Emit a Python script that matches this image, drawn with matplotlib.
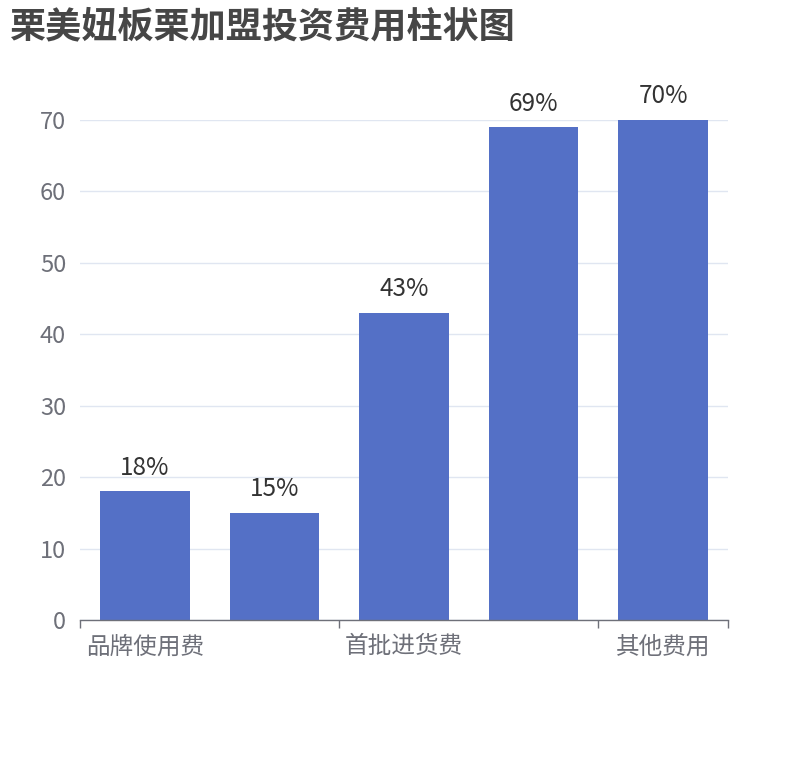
import matplotlib
matplotlib.use("Agg")
import matplotlib.pyplot as plt
from matplotlib.ticker import FixedLocator

plt.rcParams['font.family'] = ['Noto Sans CJK SC', 'DejaVu Sans']

title = "栗美妞板栗加盟投资费用柱状图"
categories = ["品牌使用费", "加盟费", "首批进货费", "装修费", "其他费用"]
values = [18, 15, 43, 69, 70]
labels = ["18%", "15%", "43%", "69%", "70%"]
yticks = [0, 10, 20, 30, 40, 50, 60, 70]

bar_color = "#5470C6"
grid_color = "#E0E6F1"
axis_color = "#6E7079"

fig = plt.figure(figsize=(8.1, 7.6), dpi=100)
ax = fig.add_axes([80/810, 1-620/760, (728-80)/810, 500/760])

x = list(range(len(categories)))
bars = ax.bar(x, values, width=0.69, color=bar_color, zorder=3)

for xi, v, lab in zip(x, values, labels):
    ax.annotate(lab, (xi, v), xytext=(0, 17), textcoords="offset points",
                ha="center", va="center", fontsize=17.5, color="#333333", zorder=4)

ax.set_xlim(-0.5, len(categories) - 0.5)
ax.set_ylim(0, 70)
ax.set_yticks(yticks)
ax.set_yticklabels([str(t) for t in yticks], fontsize=17, color=axis_color)
ax.tick_params(axis='y', length=0, pad=10)
ax.yaxis.grid(True, color=grid_color, linewidth=1, zorder=0)
ax.set_axisbelow(True)

shown = [i for i in x if i % 2 == 0]
ax.set_xticks(shown)
ax.set_xticklabels([categories[i] for i in shown], fontsize=17, color=axis_color)
ax.tick_params(axis='x', which='major', length=0, pad=11)
ax.xaxis.set_minor_locator(FixedLocator([-0.5, 1.5, 3.5, 4.5]))
ax.tick_params(axis='x', which='minor', length=6, width=1, color=axis_color)

for s in ["top", "right", "left"]:
    ax.spines[s].set_visible(False)
ax.spines["bottom"].set_color(axis_color)
ax.spines["bottom"].set_linewidth(1)
ax.spines["bottom"].set_zorder(5)

fig.text(10/810, 1-27/760, title, fontsize=26, fontweight="bold", color="#464646",
         ha="left", va="center")

fig.savefig("out.png", dpi=100)
